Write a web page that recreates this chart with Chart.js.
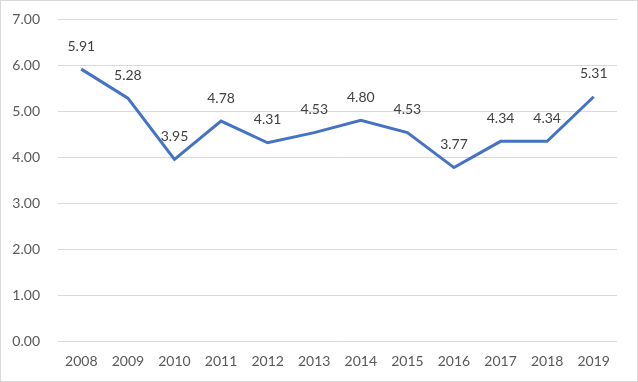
<!DOCTYPE html>
<html>
<head>
<meta charset="utf-8">
<script src="https://cdn.jsdelivr.net/npm/chart.js@4/dist/chart.umd.min.js"></script>
<style>
html,body{margin:0;padding:0;background:#fff;}
#wrap{position:relative;width:638px;height:382px;box-sizing:border-box;border:1px solid #D9D9D9;}
canvas{display:block;}
</style>
</head>
<body>
<div id="wrap"><canvas id="c" width="636" height="380"></canvas></div>
<script>
const years = ['2008','2009','2010','2011','2012','2013','2014','2015','2016','2017','2018','2019'];
const values = [5.91,5.28,3.95,4.78,4.31,4.53,4.80,4.53,3.77,4.34,4.34,5.31];
const yTicks = [0,1,2,3,4,5,6,7];

const FONT = 'Lato, "Liberation Sans", Arial, sans-serif';

const labelPlugin = {
  id: 'valueLabels',
  afterDatasetsDraw(chart) {
    const ctx = chart.ctx;
    const meta = chart.getDatasetMeta(0);
    ctx.save();
    ctx.font = '14px ' + FONT;
    ctx.fillStyle = '#404040';
    ctx.textAlign = 'center';
    ctx.textBaseline = 'middle';
    meta.data.forEach((pt, i) => {
      ctx.fillText(values[i].toFixed(2), pt.x, pt.y - 23);
    });
    ctx.restore();
  }
};

new Chart(document.getElementById('c'), {
  type: 'line',
  data: {
    labels: years,
    datasets: [{
      data: values,
      borderColor: '#4472C4',
      borderWidth: 3,
      pointRadius: 0,
      pointHoverRadius: 0,
      tension: 0,
      fill: false
    }]
  },
  options: {
    responsive: false,
    animation: false,
    events: [],
    layout: { padding: { top: 18, right: 20, left: 0, bottom: 0 } },
    plugins: { legend: { display: false }, tooltip: { enabled: false } },
    scales: {
      x: {
        type: 'category',
        offset: true,
        grid: { display: false, drawTicks: false },
        border: { display: false },
        ticks: { color: '#595959', font: { family: FONT, size: 14 }, padding: 12, maxRotation: 0 },
        afterFit(s) { s.height = 40; s.paddingLeft = 0; s.paddingRight = 0; }
      },
      y: {
        min: 0, max: 7,
        afterBuildTicks(s) { s.ticks = yTicks.map(v => ({ value: v })); },
        grid: { color: '#D9D9D9', lineWidth: 1, drawTicks: false },
        border: { display: false },
        ticks: {
          color: '#595959', font: { family: FONT, size: 14 }, padding: 18,
          callback: v => Number(v).toFixed(2)
        },
        afterFit(s) { s.width = 57; s.paddingTop = 0; s.paddingBottom = 0; }
      }
    }
  },
  plugins: [labelPlugin]
});
</script>
</body>
</html>
